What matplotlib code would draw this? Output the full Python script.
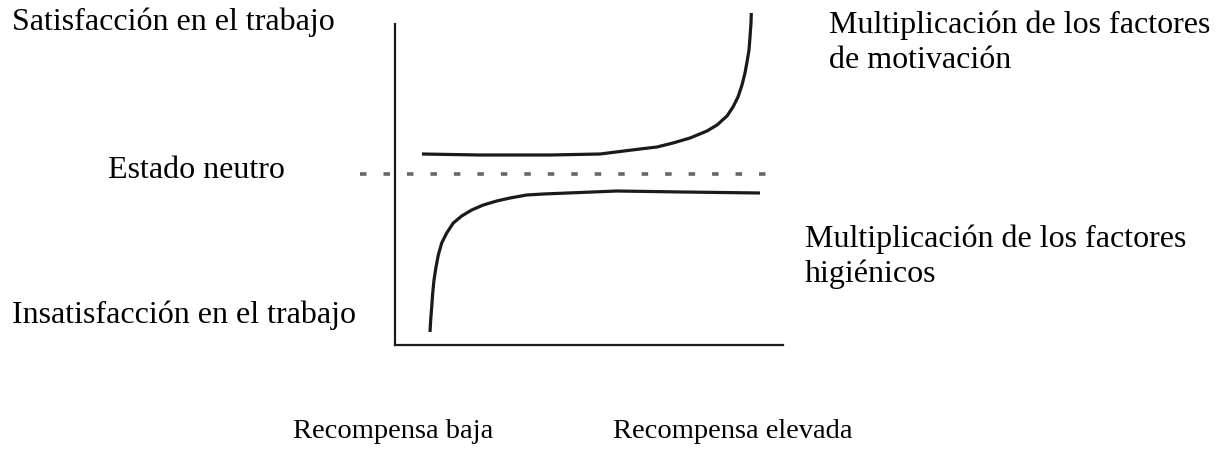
import matplotlib
matplotlib.use("Agg")
import matplotlib.pyplot as plt

# Herzberg two-factor diagram: x = reward level, y = satisfaction (0 = neutral state)
motiv_x = [27, 85, 155, 205, 245, 262, 278, 295, 312, 322, 332, 338, 343, 347,
           350, 352, 354, 355, 356, 356.3]
motiv_y = [20, 19, 19, 20, 25, 27, 31, 36, 43, 49, 58, 67, 77, 89,
           101, 112, 124, 137, 151, 161]

hyg_x = [35, 35.7, 36.7, 37.7, 39, 41, 43.3, 46.7, 51.7, 58.3, 66.7, 76.7, 88.3,
         101.7, 115, 131.7, 148.3, 222, 288, 365]
hyg_y = [-158, -146, -133, -119, -106, -93, -81, -69, -59, -49, -42, -36, -31,
         -27, -24, -21, -20, -17, -18, -19]

neutral_x = [-35, 377]
neutral_y = [0, 0]

W, H = 1222, 449
FONT = "Liberation Serif"
INK = "#1a1a1a"

fig = plt.figure(figsize=(W / 100, H / 100), dpi=100)
fig.patch.set_facecolor("white")

# diagram axes: left edge at px 395, bottom at px 345, top at px 0
ax = fig.add_axes([395 / W, (H - 345) / H, 388 / W, 345 / H])
ax.set_xlim(0, 388)
ax.set_ylim(-171, 174)
ax.patch.set_alpha(0)
for s in ("top", "right"):
    ax.spines[s].set_visible(False)
ax.spines["left"].set_bounds(-171, 150)
for s in ("left", "bottom"):
    ax.spines[s].set_linewidth(1.6)
    ax.spines[s].set_color(INK)
ax.set_xticks([]); ax.set_yticks([])

ax.plot(motiv_x, motiv_y, color=INK, lw=2.3, solid_capstyle="butt",
        solid_joinstyle="round", clip_on=False)
ax.plot(hyg_x, hyg_y, color=INK, lw=2.3, solid_capstyle="butt",
        solid_joinstyle="round", clip_on=False)
ax.plot(neutral_x, neutral_y, color="#666666", lw=2.6,
        linestyle=(0, (1.8, 4.7)), dash_capstyle="butt", clip_on=False)

# labels, in pixel coordinates of the figure
def label(x, y, s, size=23):
    fig.text(x / W, 1 - y / H, s, fontsize=size, family=FONT, color="black",
             ha="left", va="baseline")

label(12, 30, "Satisfacción en el trabajo")
label(108, 178, "Estado neutro")
label(12, 323, "Insatisfacción en el trabajo")
label(829, 33, "Multiplicación de los factores")
label(829, 68, "de motivación")
label(805, 247, "Multiplicación de los factores")
label(805, 282, "higiénicos")
label(293, 438, "Recompensa baja", size=20.5)
label(613, 438, "Recompensa elevada", size=20.5)

fig.savefig("out.png", dpi=100, facecolor="white")
